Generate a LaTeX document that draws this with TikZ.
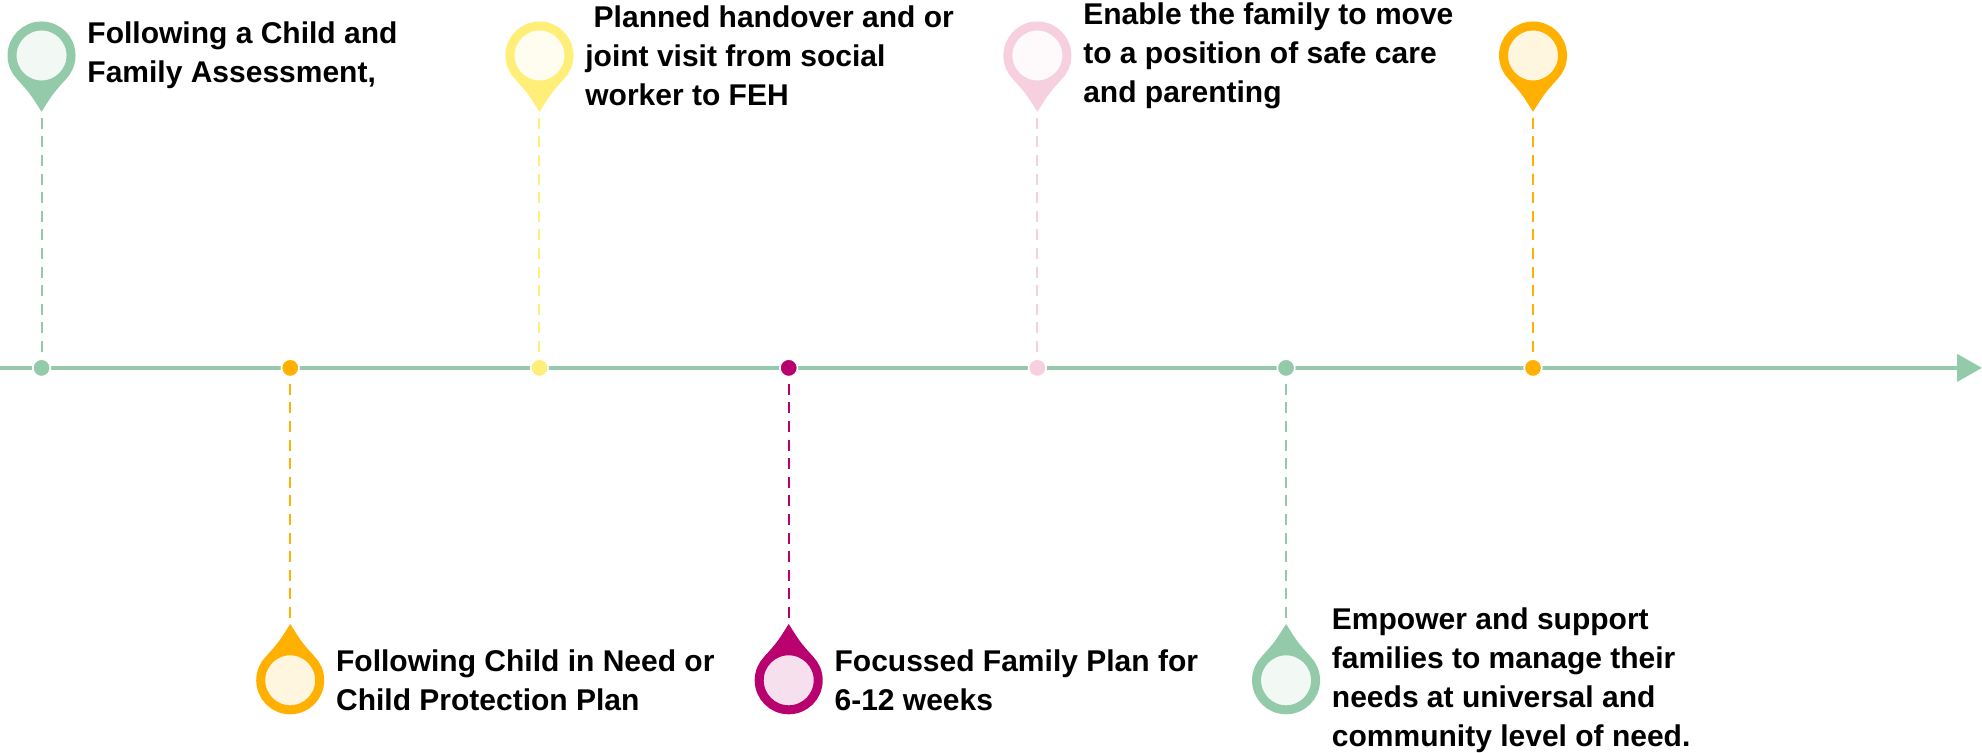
\documentclass[tikz,border=0pt]{standalone}
\usepackage{fontspec}
\setmainfont{Liberation Sans}
\usetikzlibrary{arrows.meta,backgrounds,calc}
\definecolor{pingreen}{HTML}{93CBAA}
\definecolor{pinorange}{HTML}{FFB000}
\definecolor{pinyellow}{HTML}{FFEF78}
\definecolor{pinmagenta}{HTML}{B8006E}
\definecolor{pinpink}{HTML}{F6D0DE}
\tikzset{
	dot/.style={circle, draw=white, line width=0.8pt, inner sep=0pt, minimum size=8.8pt},
	head/.style={circle, draw=#1, fill=#1!12!white, line width=4.5pt, inner sep=0pt, minimum size=29.5pt},
	stem/.style={#1, dash pattern=on 5.5pt off 3.8pt, line width=1pt, shorten <=3pt},
	label/.style={align=left, inner sep=0pt, font=\fontsize{15}{19.5}\selectfont\bfseries}
}
% tip of a pin: head, tip coordinate, colour, angle of the left and right flank
\newcommand{\pintip}[5]{\begin{scope}[on background layer]\fill[#3] (#1.#4) .. controls ($(#1.#4)!0.5!(#2)!0.05!(#1)$) .. (#2) .. controls ($(#1.#5)!0.5!(#2)!0.05!(#1)$) .. (#1.#5) -- cycle;\end{scope}}

\begin{document}
\begin{tikzpicture}
		\useasboundingbox (0,0) rectangle (34.83cm,13.215cm);
		
		\coordinate(START) at (0,6.75);
		\coordinate(END) at (34.83,6.75);
		\draw[pingreen, line width=2.2pt, -{Triangle[length=12.5pt, width=13.5pt]}] (START) -- (END);
		
		\node[dot, fill=pingreen] (D1) at (0.73,6.75){};
		\node[dot, fill=pinorange, right of=D1, node distance=4.37cm](D2){};
		\node[dot, fill=pinyellow, right of=D2, node distance=4.38cm](D3){};
		\node[dot, fill=pinmagenta, right of=D3, node distance=4.38cm](D4){};
		\node[dot, fill=pinpink, right of=D4, node distance=4.37cm](D5){};
		\node[dot, fill=pingreen, right of=D5, node distance=4.37cm](D6){};
		\node[dot, fill=pinorange, right of=D6, node distance=4.34cm](D7){};
		
		\node[head=pingreen, above of=D1, node distance=5.49cm](H1){};
		\node[head=pinorange, below of=D2, node distance=5.49cm](H2){};
		\node[head=pinyellow, above of=D3, node distance=5.49cm](H3){};
		\node[head=pinmagenta, below of=D4, node distance=5.49cm](H4){};
		\node[head=pinpink, above of=D5, node distance=5.49cm](H5){};
		\node[head=pingreen, below of=D6, node distance=5.49cm](H6){};
		\node[head=pinorange, above of=D7, node distance=5.49cm](H7){};
		
		\coordinate[below of=H1, node distance=0.99cm](T1);
		\coordinate[above of=H2, node distance=0.99cm](T2);
		\coordinate[below of=H3, node distance=0.99cm](T3);
		\coordinate[above of=H4, node distance=0.99cm](T4);
		\coordinate[below of=H5, node distance=0.99cm](T5);
		\coordinate[above of=H6, node distance=0.99cm](T6);
		\coordinate[below of=H7, node distance=0.99cm](T7);
		
		\pintip{H1}{T1}{pingreen}{225}{315}
		\pintip{H2}{T2}{pinorange}{135}{45}
		\pintip{H3}{T3}{pinyellow}{225}{315}
		\pintip{H4}{T4}{pinmagenta}{135}{45}
		\pintip{H5}{T5}{pinpink}{225}{315}
		\pintip{H6}{T6}{pingreen}{135}{45}
		\pintip{H7}{T7}{pinorange}{225}{315}
		
		\draw[stem=pingreen] (T1) -- (D1);
		\draw[stem=pinorange] (T2) -- (D2);
		\draw[stem=pinyellow] (T3) -- (D3);
		\draw[stem=pinmagenta] (T4) -- (D4);
		\draw[stem=pinpink] (T5) -- (D5);
		\draw[stem=pingreen] (T6) -- (D6);
		\draw[stem=pinorange] (T7) -- (D7);
		
		\node[label, right of=H1, node distance=0.8cm, anchor=west](L1){Following a Child and\\Family Assessment,};
		\node[label, right of=H2, node distance=0.8cm, anchor=west](L2){Following Child in Need or\\Child Protection Plan};
		\node[label, right of=H3, node distance=0.8cm, anchor=west](L3){\ Planned handover and or\\joint visit from social\\worker to FEH};
		\node[label, right of=H4, node distance=0.8cm, anchor=west](L4){Focussed Family Plan for\\6-12 weeks};
		\node[label, right of=H5, node distance=0.8cm, anchor=west](L5){Enable the family to move\\to a position of safe care\\and parenting};
		\node[label, right of=H6, node distance=0.8cm, anchor=west](L6){Empower and support\\families to manage their\\needs at universal and\\community level of need.};
\end{tikzpicture}
\end{document}
